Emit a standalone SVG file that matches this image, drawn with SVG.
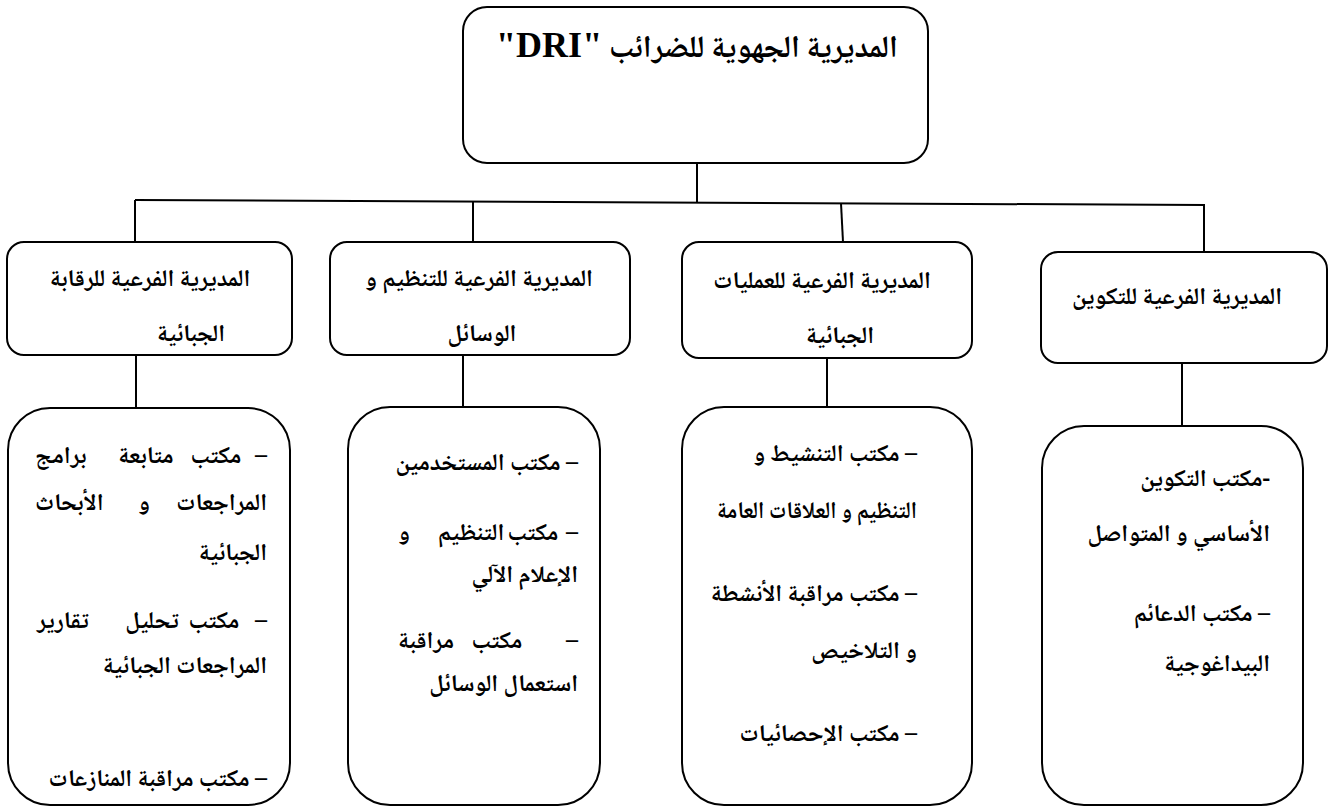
<svg xmlns="http://www.w3.org/2000/svg" width="1332" height="807" viewBox="0 0 1332 807">
  <style>
    .box { fill: #ffffff; stroke: #000000; stroke-width: 2; }
    .wire { fill: none; stroke: #000000; stroke-width: 2; }
    .ar { font-family: "Noto Naskh Arabic", "DejaVu Sans", sans-serif; font-weight: bold; font-size: 24px; fill: #000000; direction: rtl; }
    .head { font-size: 24px; }
    .title { font-family: "Noto Naskh Arabic", "DejaVu Sans", sans-serif; font-weight: bold; font-size: 31px; fill: #000000; direction: rtl; }
    .latin { font-family: "Liberation Serif", serif; font-size: 36px; }
    .r { text-anchor: start; }
    .l { text-anchor: end; }
    .c { text-anchor: middle; }
  </style>

  <!-- connectors -->
  <g id="connectors">
    <line class="wire" x1="697" y1="163" x2="697" y2="202"/>
    <line class="wire" x1="135" y1="200" x2="1205" y2="205"/>
    <line class="wire" x1="135" y1="200" x2="135" y2="242"/>
    <line class="wire" x1="473" y1="201.6" x2="473" y2="242"/>
    <line class="wire" x1="841" y1="203.3" x2="843" y2="242"/>
    <line class="wire" x1="1204" y1="205" x2="1204" y2="252"/>
    <line class="wire" x1="136" y1="355" x2="136" y2="408"/>
    <line class="wire" x1="463" y1="355" x2="463" y2="407"/>
    <line class="wire" x1="827" y1="358" x2="827" y2="407"/>
    <line class="wire" x1="1182" y1="363" x2="1182" y2="426"/>
  </g>

  <!-- top level -->
  <g id="dri">
    <rect class="box" x="463" y="7" width="465" height="156" rx="24"/>
    <text class="title c" x="697" y="57">المديرية الجهوية للضرائب <tspan class="latin">"DRI"</tspan></text>
  </g>

  <!-- sub-directorates -->
  <g id="sd-control">
    <rect class="box" x="7" y="242" width="285" height="113" rx="17"/>
    <text class="ar head c" x="150" y="286">المديرية الفرعية للرقابة</text>
    <text class="ar head c" x="191" y="341">الجبائية</text>
  </g>
  <g id="sd-organisation">
    <rect class="box" x="330" y="242" width="300" height="113" rx="17"/>
    <text class="ar head c" x="479" y="286">المديرية الفرعية للتنظيم و</text>
    <text class="ar head c" x="482" y="341">الوسائل</text>
  </g>
  <g id="sd-operations">
    <rect class="box" x="682" y="242" width="290" height="116" rx="17"/>
    <text class="ar head c" x="822" y="288">المديرية الفرعية للعمليات</text>
    <text class="ar head c" x="840" y="343">الجبائية</text>
  </g>
  <g id="sd-training">
    <rect class="box" x="1041" y="252" width="286" height="111" rx="17"/>
    <text class="ar head c" x="1177" y="304">المديرية الفرعية للتكوين</text>
  </g>

  <!-- offices -->
  <g id="offices-control">
    <rect class="box" x="8" y="408" width="282" height="397" rx="42"/>
    <text class="ar r" x="267" y="463">–</text>
    <text class="ar c" x="216" y="463">مكتب</text>
    <text class="ar c" x="146" y="463">متابعة</text>
    <text class="ar l" x="35" y="463">برامج</text>
    <text class="ar r" x="267" y="510">المراجعات</text>
    <text class="ar c" x="144" y="510">و</text>
    <text class="ar l" x="35" y="510">الأبحاث</text>
    <text class="ar r" x="267" y="560">الجبائية</text>
    <text class="ar r" x="267" y="628">–</text>
    <text class="ar c" x="214" y="628">مكتب</text>
    <text class="ar c" x="152" y="628">تحليل</text>
    <text class="ar l" x="37" y="628">تقارير</text>
    <text class="ar r" x="267" y="673">المراجعات الجبائية</text>
    <text class="ar r" x="267" y="786">– مكتب مراقبة المنازعات</text>
  </g>
  <g id="offices-organisation">
    <rect class="box" x="348" y="407" width="252" height="398" rx="42"/>
    <text class="ar r" x="578" y="470">– مكتب المستخدمين</text>
    <text class="ar r" x="578" y="540">–</text>
    <text class="ar c" x="533" y="540">مكتب</text>
    <text class="ar c" x="471" y="540">التنظيم</text>
    <text class="ar l" x="398" y="540">و</text>
    <text class="ar r" x="578" y="582">الإعلام الآلي</text>
    <text class="ar r" x="578" y="648">–</text>
    <text class="ar c" x="497" y="648">مكتب</text>
    <text class="ar l" x="398" y="648">مراقبة</text>
    <text class="ar r" x="578" y="691">استعمال الوسائل</text>
  </g>
  <g id="offices-operations">
    <rect class="box" x="682" y="407" width="290" height="398" rx="42"/>
    <text class="ar r" x="917" y="461">– مكتب التنشيط و</text>
    <text class="ar r" x="917" y="518" textLength="200" lengthAdjust="spacingAndGlyphs">التنظيم و العلاقات العامة</text>
    <text class="ar r" x="917" y="601">– مكتب مراقبة الأنشطة</text>
    <text class="ar r" x="917" y="658">و التلاخيص</text>
    <text class="ar r" x="917" y="741">– مكتب الإحصائيات</text>
  </g>
  <g id="offices-training">
    <rect class="box" x="1042" y="426" width="261" height="379" rx="42"/>
    <text class="ar r" x="1270" y="486">-مكتب التكوين</text>
    <text class="ar r" x="1270" y="541">الأساسي و المتواصل</text>
    <text class="ar r" x="1270" y="621">– مكتب الدعائم</text>
    <text class="ar r" x="1270" y="671">البيداغوجية</text>
  </g>
</svg>
